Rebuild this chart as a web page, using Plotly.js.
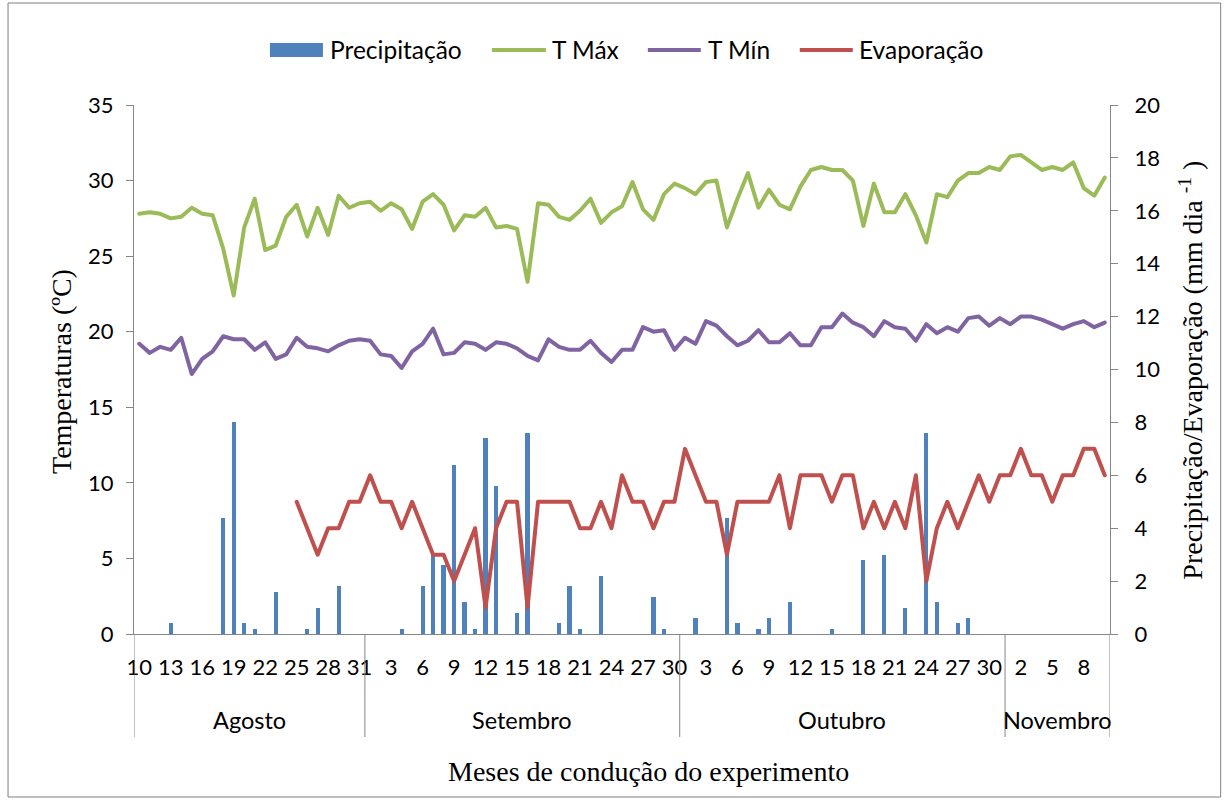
<!DOCTYPE html>
<html><head><meta charset="utf-8">
<script src="https://cdn.plot.ly/plotly-3.0.1.min.js"></script>
<style>
html,body{margin:0;padding:0;background:#fff}
#chart{width:1227px;height:800px}
#chart path.js-line{stroke-linejoin:round;stroke-linecap:round}
</style>
</head><body><div id="chart"></div>
<script>
// ---- categories ----
const dayNumbers = [10,11,12,13,14,15,16,17,18,19,20,21,22,23,24,25,26,27,28,29,30,31,
  1,2,3,4,5,6,7,8,9,10,11,12,13,14,15,16,17,18,19,20,21,22,23,24,25,26,27,28,29,30,
  1,2,3,4,5,6,7,8,9,10,11,12,13,14,15,16,17,18,19,20,21,22,23,24,25,26,27,28,29,30,31,
  1,2,3,4,5,6,7,8,9,10];
const monthNames = ['Agosto','Setembro','Outubro','Novembro'];
const monthLengths = [22,30,31,10];

// ---- series ----
const precipitacao = [
  0,0,0,0.4,0,0,0,0,4.4,8.0,
  0.4,0.2,0,1.6,0,0,0.2,1.0,0,1.8,
  0,0,0,0,0,0.2,0,1.8,3.0,2.6,
  6.4,1.2,0.2,7.4,5.6,0,0.8,7.6,0,0,
  0.4,1.8,0.2,0,2.2,0,0,0,0,1.4,
  0.2,0,0,0.6,0,0,4.4,0.4,0,0.2,
  0.6,0,1.2,0,0,0,0.2,0,0,2.8,
  0,3.0,0,1.0,0,7.6,1.2,0,0.4,0.6,
  0,0,0,0,0,0,0,0,0,0,
  0,0,0];
const tMax = [
  27.8,27.9,27.8,27.5,27.6,28.2,27.8,27.7,25.5,22.4,
  26.9,28.8,25.4,25.7,27.6,28.4,26.3,28.2,26.4,29.0,
  28.2,28.5,28.6,28.0,28.5,28.1,26.8,28.6,29.1,28.4,
  26.7,27.7,27.6,28.2,26.9,27.0,26.8,23.3,28.5,28.4,
  27.6,27.4,28.0,28.8,27.2,27.9,28.3,29.9,28.1,27.4,
  29.1,29.8,29.5,29.1,29.9,30.0,26.9,28.8,30.5,28.2,
  29.4,28.4,28.1,29.6,30.7,30.9,30.7,30.7,30.0,27.0,
  29.8,27.9,27.9,29.1,27.7,25.9,29.1,28.9,30.0,30.5,
  30.5,30.9,30.7,31.6,31.7,31.2,30.7,30.9,30.7,31.2,
  29.5,29.0,30.2];
const tMin = [
  19.2,18.6,19.0,18.8,19.6,17.2,18.2,18.7,19.7,19.5,
  19.5,18.8,19.3,18.2,18.5,19.6,19.0,18.9,18.7,19.1,
  19.4,19.5,19.4,18.5,18.4,17.6,18.7,19.2,20.2,18.5,
  18.6,19.3,19.2,18.8,19.3,19.2,18.9,18.4,18.1,19.5,
  19.0,18.8,18.8,19.4,18.6,18.0,18.8,18.8,20.3,20.0,
  20.1,18.8,19.6,19.2,20.7,20.4,19.7,19.1,19.4,20.1,
  19.3,19.3,19.9,19.1,19.1,20.3,20.3,21.2,20.6,20.3,
  19.7,20.7,20.3,20.2,19.4,20.5,19.9,20.3,20.0,20.9,
  21.0,20.4,20.9,20.5,21.0,21.0,20.8,20.5,20.2,20.5,
  20.7,20.3,20.6];
const evaporacao = [
  null,null,null,null,null,null,null,null,null,null,
  null,null,null,null,null,5,4,3,4,4,
  5,5,6,5,5,4,5,4,3,3,
  2,3,4,1,4,5,5,1,5,5,
  5,5,4,4,5,4,6,5,5,4,
  5,5,7,6,5,5,3,5,5,5,
  5,6,4,6,6,6,5,6,6,4,
  5,4,5,4,6,2,4,5,4,5,
  6,5,6,6,7,6,6,5,6,6,
  7,7,6];
const seriesNames = ['Precipitação','T Máx','T Mín','Evaporação'];
const seriesColors = ['#4F81BD','#9BBB59','#8064A2','#C0504D'];
const leftTicks = [0,5,10,15,20,25,30,35];
const rightTicks = [0,2,4,6,8,10,12,14,16,18,20];

// ---- layout geometry (pixels) ----
const W = 1227, H = 800;
const PL = 134, PR = 1110.3, PT = 105, PB = 634;
const pw = PR - PL, ph = PB - PT;
const px = v => (v - PL) / pw;
const py = v => (PB - v) / ph;

const idx = dayNumbers.map((d, i) => i);
const tickIdx = idx.filter(i => i % 3 === 0);
const tickTxt = tickIdx.map(i => String(dayNumbers[i]));

const sansFont = 'Lato, "Open Sans", sans-serif';
const serifFont = '"Liberation Serif", "DejaVu Serif", serif';
const axisGrey = '#868686';

const traces = [
  {type:'bar', x: idx, y: precipitacao, yaxis:'y2', name: seriesNames[0],
   marker:{color: seriesColors[0]}, width: 0.4, showlegend:false, hoverinfo:'y'},
  {type:'scatter', mode:'lines', x: idx, y: tMax, name: seriesNames[1],
   line:{color: seriesColors[1], width:4}, showlegend:false},
  {type:'scatter', mode:'lines', x: idx, y: tMin, name: seriesNames[2],
   line:{color: seriesColors[2], width:4}, showlegend:false},
  {type:'scatter', mode:'lines', x: idx, y: evaporacao, yaxis:'y2', name: seriesNames[3],
   line:{color: seriesColors[3], width:4}, showlegend:false, connectgaps:false}
];

// month group boundaries
const bounds = [-0.5];
monthLengths.forEach(n => bounds.push(bounds[bounds.length-1] + n));

const shapes = [];
const annotations = [];
bounds.forEach(b => shapes.push({type:'line', xref:'x', yref:'paper', x0:b, x1:b,
  y0:0, y1:py(737), line:{color:axisGrey, width:1}}));
monthNames.forEach((m, k) => annotations.push({xref:'x', yref:'paper',
  x:(bounds[k]+bounds[k+1])/2, y:py(720), text:m, showarrow:false,
  xanchor:'center', yanchor:'middle', font:{family:sansFont, size:23.5, color:'#000'}}));

// outer chart border
shapes.push({type:'rect', xref:'paper', yref:'paper', x0:px(8), x1:px(1221), y0:py(797), y1:py(3),
  line:{color:'#7f7f7f', width:1}, fillcolor:'rgba(0,0,0,0)'});

// custom legend
const legendY = 50;
const legendItems = [
  {kind:'rect', x0:270, x1:323, tx:328},
  {kind:'line', x0:492, x1:546, tx:550},
  {kind:'line', x0:648, x1:701, tx:706},
  {kind:'line', x0:800, x1:853, tx:857}
];
legendItems.forEach((it, k) => {
  if (it.kind === 'rect') {
    shapes.push({type:'rect', xref:'paper', yref:'paper', x0:px(it.x0), x1:px(it.x1),
      y0:py(legendY+7), y1:py(legendY-7), line:{width:0}, fillcolor:seriesColors[k]});
  } else {
    shapes.push({type:'line', xref:'paper', yref:'paper', x0:px(it.x0), x1:px(it.x1),
      y0:py(legendY), y1:py(legendY), line:{color:seriesColors[k], width:4}});
  }
  annotations.push({xref:'paper', yref:'paper', x:px(it.tx), y:py(legendY), text:seriesNames[k],
    showarrow:false, xanchor:'left', yanchor:'middle', font:{family:sansFont, size:24.5, color:'#000'}});
});

// axis titles
annotations.push({xref:'paper', yref:'paper', x:px(62), y:py(372), text:'Temperaturas (ºC)',
  textangle:-90, showarrow:false, xanchor:'center', yanchor:'middle',
  font:{family:serifFont, size:28, color:'#000'}});
annotations.push({xref:'paper', yref:'paper', x:px(1191), y:py(370),
  text:'Precipitação/Evaporação (mm dia <sup>-1</sup> )',
  textangle:-90, showarrow:false, xanchor:'center', yanchor:'middle',
  font:{family:serifFont, size:28, color:'#000'}});
annotations.push({xref:'paper', yref:'paper', x:px(649), y:py(771),
  text:'Meses de condução do experimento', showarrow:false, xanchor:'center', yanchor:'middle',
  font:{family:serifFont, size:28, color:'#000'}});

const layout = {
  width: W, height: H,
  margin: {l: PL, r: W - PR, t: PT, b: H - PB, pad: 0},
  paper_bgcolor: '#fff', plot_bgcolor: '#fff',
  showlegend: false,
  bargap: 0,
  xaxis: {
    range: [-0.5, dayNumbers.length - 0.5], tickmode:'array', tickvals: tickIdx, ticktext: tickTxt,
    showgrid:false, zeroline:false, showline:true, linecolor:axisGrey, linewidth:1,
    ticks:'', ticklabelstandoff: 14,
    tickfont:{family:sansFont, size:22, color:'#000'}, fixedrange:true
  },
  yaxis: {
    range:[0,35], tickmode:'array', tickvals:leftTicks, showgrid:false, zeroline:false,
    showline:true, linecolor:axisGrey, linewidth:1, ticks:'outside', ticklen:7, tickcolor:axisGrey,
    ticklabelstandoff: 8,
    tickfont:{family:sansFont, size:22, color:'#000'}
  },
  yaxis2: {
    range:[0,20], tickmode:'array', tickvals:rightTicks, overlaying:'y', side:'right',
    showgrid:false, zeroline:false, showline:true, linecolor:axisGrey, linewidth:1,
    ticks:'outside', ticklen:7, tickcolor:axisGrey, ticklabelstandoff: 12,
    tickfont:{family:sansFont, size:22, color:'#000'}
  },
  shapes: shapes,
  annotations: annotations
};

Plotly.newPlot('chart', traces, layout, {displayModeBar:false, staticPlot:true});
</script>
</body></html>
